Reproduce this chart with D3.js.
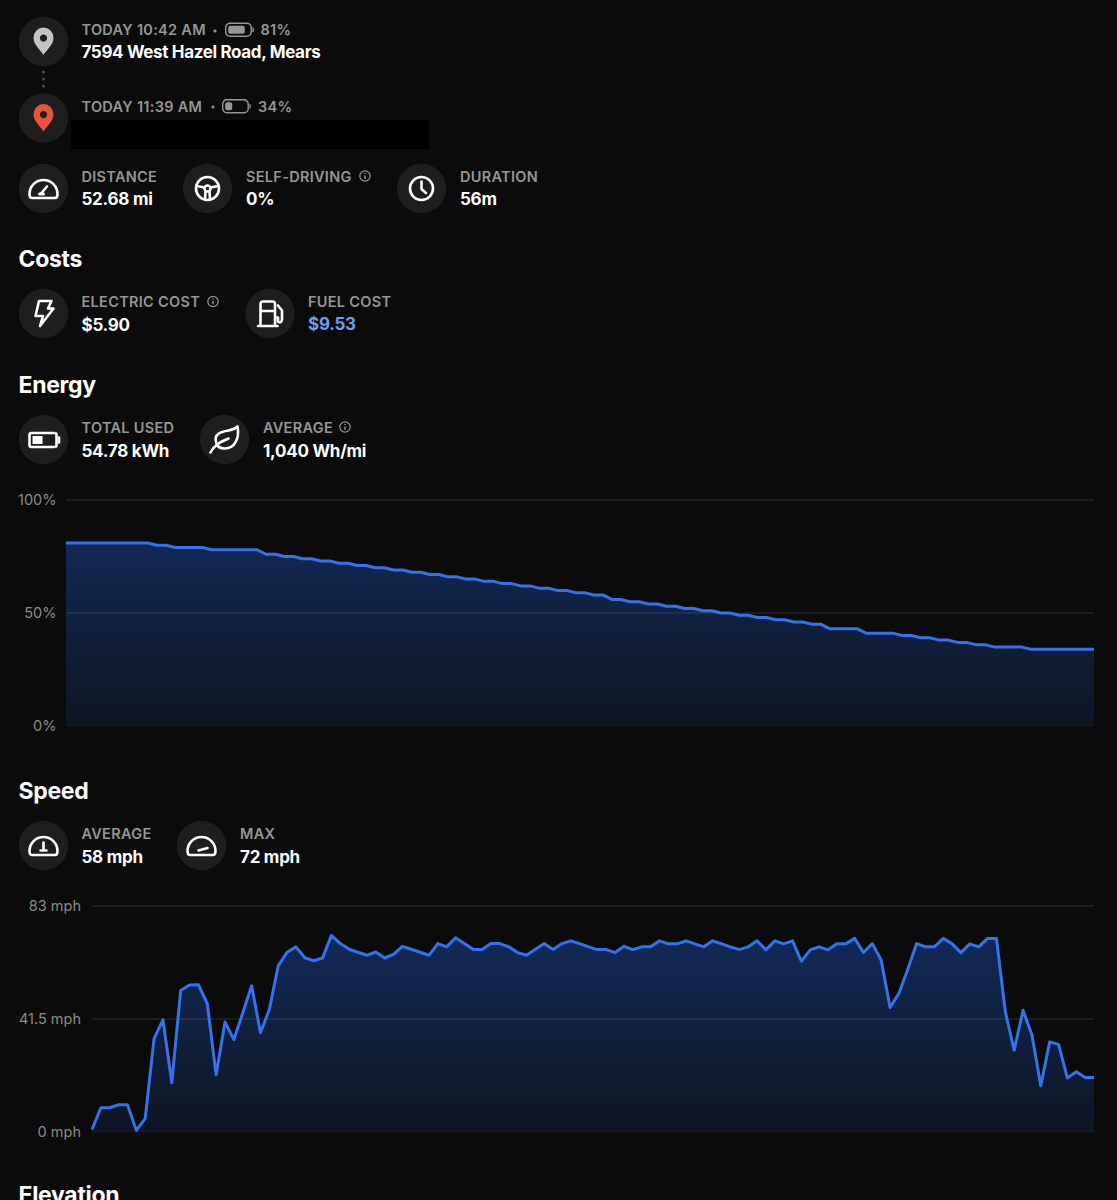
<!DOCTYPE html>
<html><head><meta charset="utf-8">
<script src="https://cdnjs.cloudflare.com/ajax/libs/d3/7.8.5/d3.min.js"></script>
<style>html,body{margin:0;padding:0;background:#0b0b0b;overflow:hidden}svg{display:block}text{font-family:Inter,"Noto Sans",sans-serif}</style>
</head><body><svg id="c" width="1117" height="1200"></svg>
<script>
const energyValues=[81,81,81,81,81,81,81,81,81,81,80,80,79,79,79,79,78,78,78,78,78,78,76,76,75,75,74,74,73,73,72,72,71,71,70,70,69,69,68,68,67,67,66,66,65,65,64,64,63,63,62,62,61,61,60,60,59,59,58,58,56,56,55,55,54,54,53,53,52,52,51,51,50,50,49,49,48,48,47,47,46,46,45,45,43,43,43,43,41,41,41,41,40,40,39,39,38,38,37,37,36,36,35,35,35,35,34,34,34,34,34,34,34,34];
const speedValues=[0.9,8.9,8.9,10,10,0.6,4.9,34.3,41.2,18.1,52,54,54.1,47.1,21,40.4,33.9,43.7,53.7,36.5,45,61,66,68,64,62.9,63.9,72.2,69.2,67.1,66,64.9,66.1,63.9,65.2,68.2,67.1,66,64.9,69.2,68,71.3,69.2,67,67,69.2,69.2,68,65.9,64.9,67.1,69.2,67,69.2,70.2,69.2,68,67,67,65.9,68.2,67,68,68,70.2,69.1,69.1,70.2,69.1,68,70.2,69.1,68,67,68,70.2,66.9,70.2,69.1,70.2,62.7,66.9,68,66.9,69.1,69.1,71.1,65.9,69.2,63.1,45.7,50.9,59.8,69.2,68,68,71.1,69.1,65.9,69.1,68,71.1,71.1,44.1,30.1,44.7,35.6,17,33.1,32.2,19.8,22.1,20,20];
const energyTicks=[0,50,100];
const speedTicks=[0,41.5,83];
const tripLabels=["TODAY 10:42 AM","TODAY 11:39 AM"];
const tripBattery=["81%","34%"];
const tripStart="7594 West Hazel Road, Mears";
const headings=["Costs","Energy","Speed","Elevation"];
const C={bg:"#0b0b0b",circle:"#1e1e1e",label:"#969696",white:"#ffffff",blue:"#3672ee",tick:"#8a8a8a"};
const svg=d3.select("#c");
svg.append("rect").attr("width",1117).attr("height",1200).attr("fill",C.bg);
const defs=svg.append("defs");

function label(x,y,t,col){return svg.append("text").attr("x",x).attr("y",y).attr("fill",col||C.label).attr("font-size",14.5).attr("font-weight",600).attr("letter-spacing",0.3).text(t);}
function value(x,y,t,col,ls){return svg.append("text").attr("x",x).attr("y",y).attr("fill",col||C.white).attr("font-size",17).attr("font-weight",700).attr("letter-spacing",ls===undefined?-0.25:ls).text(t);}
function heading(y,t){return svg.append("text").attr("x",18.5).attr("y",y).attr("fill",C.white).attr("font-size",23).attr("font-weight",700).attr("letter-spacing",-0.3).text(t);}
function info(x,y){const g=svg.append("g").attr("transform",`translate(${x},${y})`);
 g.append("circle").attr("r",5.2).attr("fill","none").attr("stroke",C.label).attr("stroke-width",1.2);
 g.append("path").attr("d","M0,-0.6V2.8M0,-2.9V-2").attr("stroke",C.label).attr("stroke-width",1.5).attr("fill","none");}
function icon(cx,cy,draw){const g=svg.append("g").attr("transform",`translate(${cx},${cy})`);
 g.append("circle").attr("r",24.7).attr("fill",C.circle);
 const s=g.append("g").attr("fill","none").attr("stroke",C.white).attr("stroke-width",2.6).attr("stroke-linecap","round").attr("stroke-linejoin","round");
 draw(s,g);}
const pin=col=>(s,g)=>{g.append("path").attr("fill-rule","evenodd").attr("fill",col)
 .attr("d","M0,13.5C-3,8.5 -10,3 -10,-3.5A10,10.500 0 1 1 10,-3.5C10,3 3,8.5 0,13.5ZM0,-7A3.600,3.600 0 1 0 0.010,-7Z");};
function battery(x,y,w,frac){const g=svg.append("g").attr("transform",`translate(${x},${y})`);
 g.append("rect").attr("x",0.7).attr("y",0.7).attr("width",w-3.5).attr("height",13).attr("rx",4.2).attr("fill","none").attr("stroke",C.label).attr("stroke-width",1.4);
 g.append("rect").attr("x",3.2).attr("y",3.2).attr("width",(w-8.5)*frac).attr("height",8).attr("rx",2).attr("fill",C.label);
 g.append("path").attr("d",`M${w-1.3},5.2Q${w},7.300 ${w-1.3},9.500`).attr("stroke",C.label).attr("stroke-width",1.4).attr("fill","none");}
const gauge=needle=>s=>{s.append("path").attr("d","M-11.500,9.500H11.500C13.500,9.500 14,7.500 14,5.500A14,14 0 0 0 -14,5.500C-14,7.500 -13.500,9.500 -11.500,9.500Z");needle(s);};

// trip header
icon(43.5,41.5,pin("#c4c4c4"));
icon(43.5,118,pin("#e8533f"));
svg.selectAll("circle.sep").data([72,79,86]).join("circle").attr("class","sep").attr("cx",43.5).attr("cy",d=>d).attr("r",1.6).attr("fill","#4a4a4a");
label(81.5,35,tripLabels[0]);label(81.5,111.500,tripLabels[1]);
svg.append("circle").attr("cx",215).attr("cy",31).attr("r",1.6).attr("fill",C.label);
svg.append("circle").attr("cx",213).attr("cy",107).attr("r",1.6).attr("fill",C.label);
battery(225,22.500,29,0.81);battery(222,99,29,0.34);
label(260.5,35,tripBattery[0]);label(258,111.500,tripBattery[1]);
value(81.5,57.500,tripStart,null,-0.35);
svg.append("rect").attr("x",71).attr("y",120).attr("width",358).attr("height",29).attr("fill","#000");

// trip stats
icon(43.5,188.5,gauge(s=>{s.append("path").attr("d","M-2.500,5L3.500,-2");s.append("path").attr("d","M-4,5.500H0").attr("stroke-width",3);}));
icon(207.5,188.5,s=>{s.append("circle").attr("r",11.500);s.append("circle").attr("r",3);s.append("path").attr("d","M-11,-2.500L-3,-1M11,-2.500L3,-1M-2,3L-2.500,11M2,3L2.500,11");});
icon(421.5,188.5,s=>{s.append("circle").attr("r",11.500);s.append("path").attr("d","M0,-7V0.500L4.500,4.500");});
label(81.5,181.500,"DISTANCE");value(81.5,205,"52.68 mi");
label(246,181.500,"SELF-DRIVING");info(365,176);value(246,205,"0%");
label(460,181.500,"DURATION");value(460,205,"56m");

// costs
heading(267,headings[0]);
icon(43.5,313.5,s=>{s.append("path").attr("d","M-4.500,-12.500H8L4.500,-5H10L-3.500,12.500L-0.500,2.500H-8Z");});
icon(270,313.5,s=>{s.append("path").attr("d","M-9.500,12V-9.500Q-9.500,-12 -7,-12H2.500Q5,-12 5,-9.500V12M-12,12.500H7.500M-9.500,-2.500H5M5,4H8V8Q11.500,10 12,6V-3L8,-8");});
label(81.5,306.500,"ELECTRIC COST");info(213,301.500);value(81.5,330.500,"$5.90");
label(308,306.500,"FUEL COST");value(308,330,"$9.53","#6f9df0");

// energy
heading(393,headings[1]);
icon(43.5,439.5,s=>{s.append("rect").attr("x",-14).attr("y",-6.500).attr("width",27).attr("height",14).attr("rx",2);
 s.append("rect").attr("x",-11).attr("y",-3.500).attr("width",10).attr("height",8).attr("fill",C.white).attr("stroke","none");
 s.append("path").attr("d","M15.500,-2V3");});
icon(224.5,439.5,s=>{s.append("path").attr("d","M-8,4C-12,-6 -2,-8 4,-9C8,-10 11,-11 13,-13C15,-2 11,9 0,9C-4,9 -7,7 -8,4Z");s.append("path").attr("d","M-14,13C-10,5 -3,2 4,-1");});
label(81.5,432.500,"TOTAL USED");value(81.5,456.500,"54.78 kWh");
label(263,432.500,"AVERAGE");info(345,427);value(263,456.500,"1,040 Wh/mi");

// speed
heading(799,headings[2]);
icon(43.5,845.5,gauge(s=>{s.append("path").attr("d","M0,-3V4").attr("stroke-width",2.6);s.append("path").attr("d","M-3,5H3").attr("stroke-width",2.4);}));
icon(201.5,845.5,gauge(s=>{s.append("path").attr("d","M-3,5L6,2.500").attr("stroke-width",2.6);}));
label(81.5,838.500,"AVERAGE");value(240,862.500,"72 mph");
label(240,838.500,"MAX");value(81.5,862.500,"58 mph");

// elevation heading (cut by window)
heading(1203,headings[3]);

function areaChart(id,values,ticks,fmt,x0,x1,pad,yTop,yBottom,domainMax){
 const x=d3.scaleLinear().domain([0,values.length-1]).range([x0,x1]);
 const y=d3.scaleLinear().domain([0,domainMax]).range([yBottom,yTop]);
 const grad=defs.append("linearGradient").attr("id",id).attr("gradientUnits","userSpaceOnUse").attr("x1",0).attr("x2",0).attr("y1",yTop).attr("y2",yBottom);
 grad.append("stop").attr("offset",0).attr("stop-color","#132d60");
 grad.append("stop").attr("offset",1).attr("stop-color","#0d1522");
 const yAxis=d3.axisLeft(y).tickValues(ticks).tickFormat(fmt).tickSize(0).tickPadding(pad);
 const g=svg.append("g");
 g.append("path").datum(values).attr("fill",`url(#${id})`)
  .attr("d",d3.area().x((d,i)=>x(i)).y0(yBottom).y1(d=>y(d)));
 g.append("g").selectAll("line").data(ticks).join("line")
  .attr("x1",x0).attr("x2",x1).attr("y1",d=>y(d)).attr("y2",d=>y(d))
  .attr("stroke","#ffffff").attr("stroke-opacity",d=>d===0?0.05:0.14);
 g.append("path").datum(values).attr("fill","none").attr("stroke",C.blue).attr("stroke-width",3).attr("stroke-linejoin","round")
  .attr("d",d3.line().x((d,i)=>x(i)).y(d=>y(d)));
 const ax=g.append("g").attr("transform",`translate(${x0},0)`).call(yAxis);
 ax.select(".domain").remove();
 ax.selectAll("text").attr("fill",C.tick).attr("font-size",14.500).attr("font-family","Inter,sans-serif");
}
areaChart("ge",energyValues,energyTicks,d=>d+"%",66,1094,9.5,500,726,100);
areaChart("gs",speedValues,speedTicks,d=>d+" mph",92,1094,11,906,1132,83);
</script></body></html>
